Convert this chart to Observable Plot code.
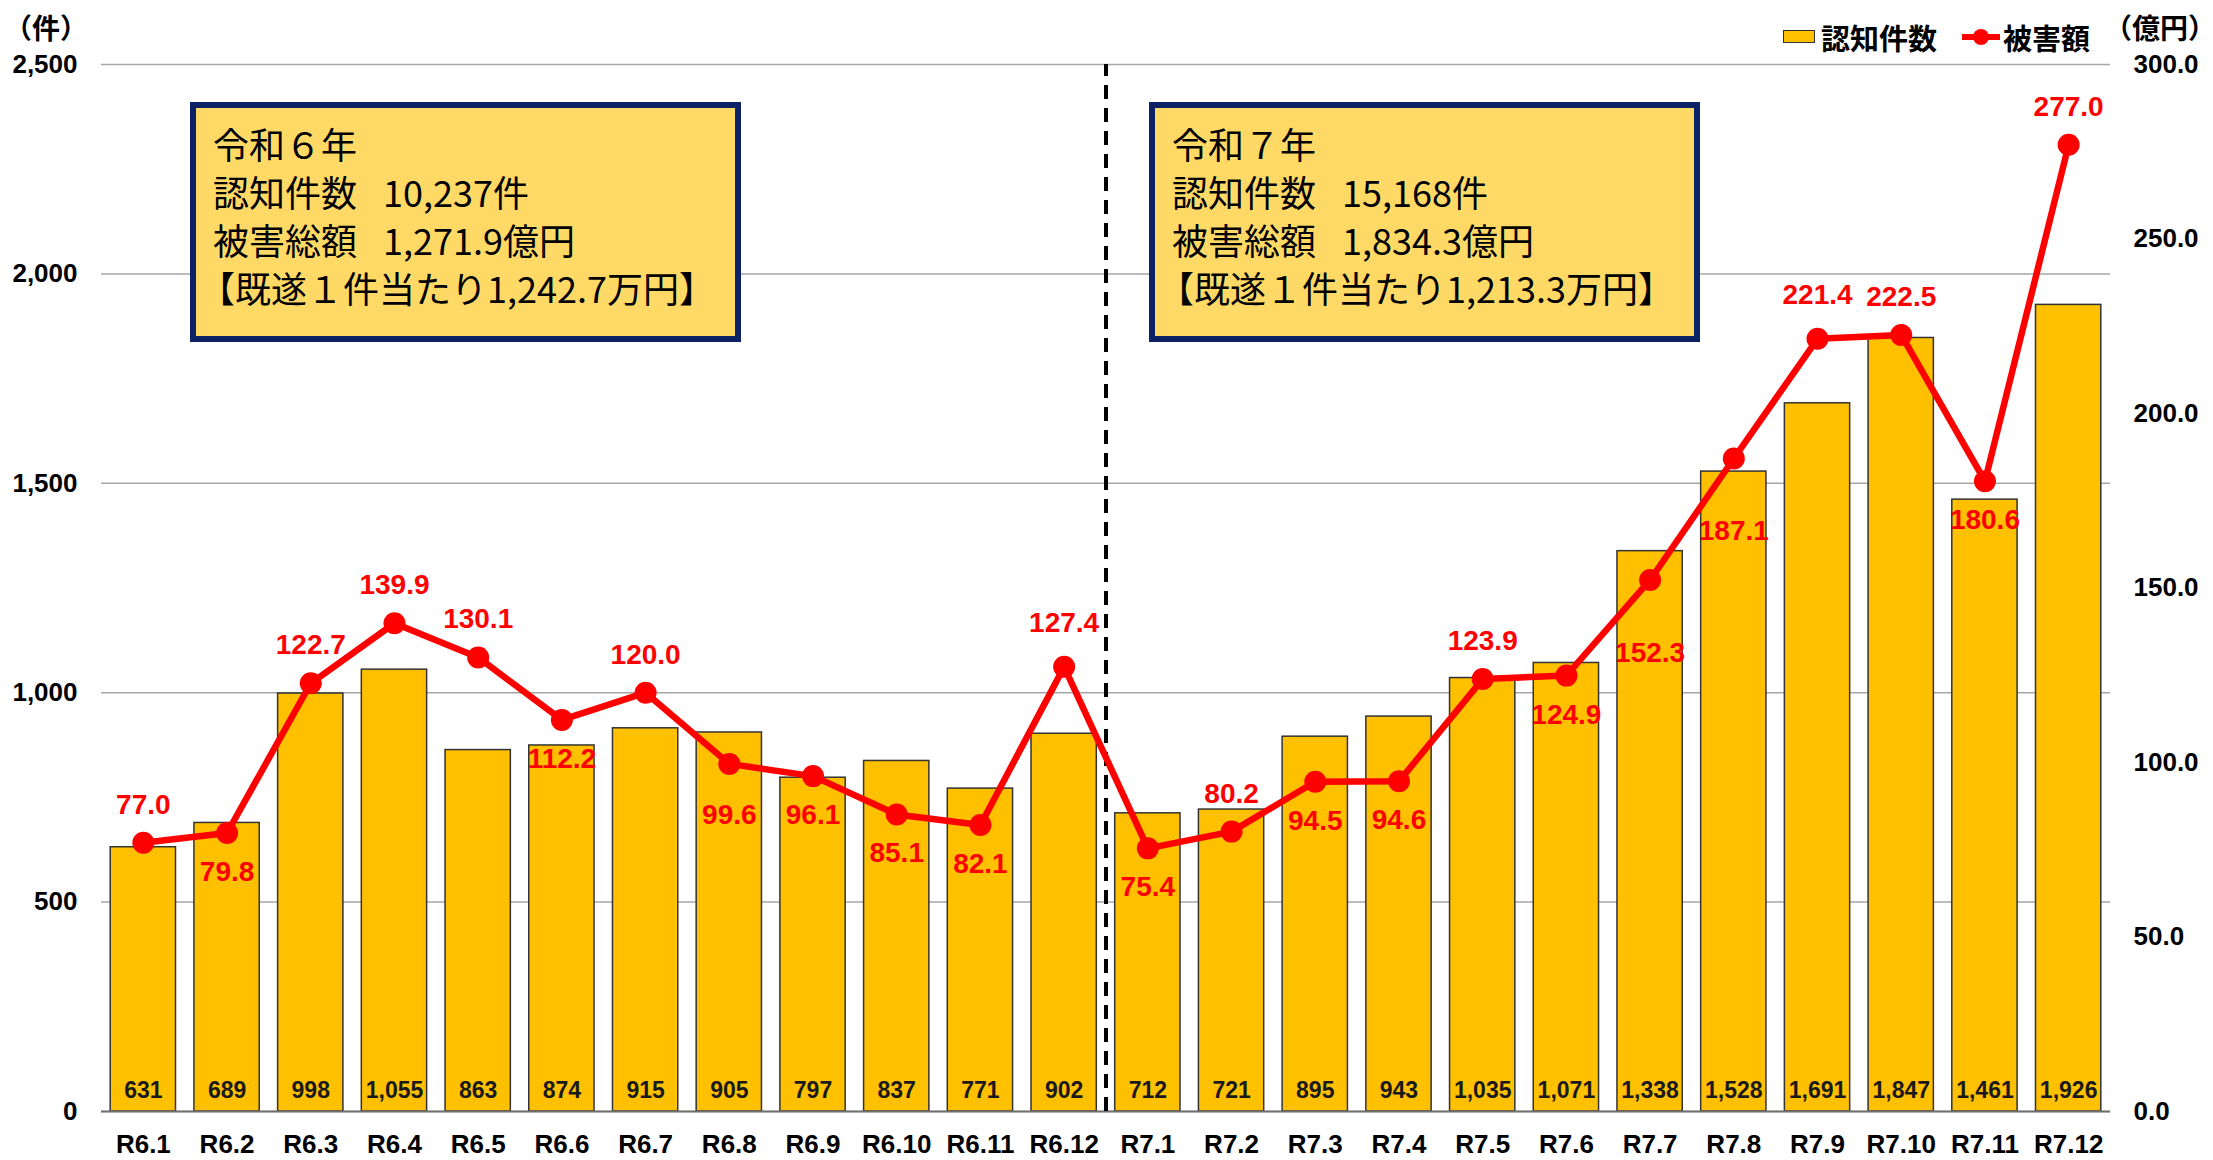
<!DOCTYPE html>
<html>
<head>
<meta charset="utf-8">
<script src="https://cdn.jsdelivr.net/npm/d3@7"></script>
<script src="https://cdn.jsdelivr.net/npm/@observablehq/plot@0.6"></script>
<style>
html, body { margin: 0; padding: 0; background: #fff; overflow: hidden; }
#wrap { position: relative; width: 2213px; height: 1160px; font-family: "Noto Sans CJK JP", "Noto Sans", sans-serif; color: #000; }
#chart { position: absolute; left: 0; top: 0; max-width: none !important; }
.box { position: absolute; top: 102px; width: 551px; height: 240px; box-sizing: border-box;
       border: 6px solid #0b2264; background: #FFD966; padding: 11px 0 0 17px;
       font-size: 36px; line-height: 48px; white-space: pre; }
.box .l4 { margin-left: -14px; }
.unit { position: absolute; top: 9px; font-size: 28px; font-weight: bold; line-height: 36px; }
.leg { position: absolute; font-size: 29px; font-weight: bold; line-height: 36px; top: 19px; }
</style>
</head>
<body>
<div id="wrap"></div>
<script>
// ---- data ----
const months = ["R6.1","R6.2","R6.3","R6.4","R6.5","R6.6","R6.7","R6.8","R6.9","R6.10","R6.11","R6.12",
                "R7.1","R7.2","R7.3","R7.4","R7.5","R7.6","R7.7","R7.8","R7.9","R7.10","R7.11","R7.12"];
const counts = [631, 689, 998, 1055, 863, 874, 915, 905, 797, 837, 771, 902,
                712, 721, 895, 943, 1035, 1071, 1338, 1528, 1691, 1847, 1461, 1926];
const amounts = [77.0, 79.8, 122.7, 139.9, 130.1, 112.2, 120.0, 99.6, 96.1, 85.1, 82.1, 127.4,
                 75.4, 80.2, 94.5, 94.6, 123.9, 124.9, 152.3, 187.1, 221.4, 222.5, 180.6, 277.0];
const leftTicks = [0, 500, 1000, 1500, 2000, 2500];
const rightTicks = [0, 50, 100, 150, 200, 250, 300];
const seriesNames = ["認知件数", "被害額"];
const leftUnit = "（件）";
const rightUnit = "（億円）";
const summaryR6 = ["令和６年", "認知件数\u2002 10,237件", "被害総額\u2002 1,271.9億円", "【既遂１件当たり1,242.7万円】"];
const summaryR7 = ["令和７年", "認知件数\u2002 15,168件", "被害総額\u2002 1,834.3億円", "【既遂１件当たり1,213.3万円】"];
// label placement for the amount labels (annotation layout)
const amountLabelPlacement = ["above","below","above","above","above","below","above","belowMid","below","below","below","aboveHigh",
                              "below","above","below","below","above","below","belowFar","belowFar","aboveHigh","above","below","above"];

// ---- layout ----
const W = 2213, H = 1160, ML = 101, MR = 103, MT = 64, MB = 49;
const PI = 0.22, PO = 0.11;
const step = (W - ML - MR) / (months.length - PI + 2 * PO);
const yMaxLeft = leftTicks[leftTicks.length - 1];
const yMaxRight = rightTicks[rightTicks.length - 1];
const K = yMaxLeft / yMaxRight;
const labelDy = { above: -38, aboveHigh: -44, below: 39, belowMid: 51, belowFar: 73 };

const data = months.map((m, i) => ({
  month: m, count: counts[i], amount: amounts[i], amountScaled: amounts[i] * K, side: amountLabelPlacement[i]
}));

const chart = Plot.plot({
  width: W, height: H,
  marginLeft: ML, marginRight: MR, marginTop: MT, marginBottom: MB,
  style: { fontFamily: "'Liberation Sans', Arial, sans-serif", background: "#fff", overflow: "visible" },
  x: { type: "band", domain: months, paddingInner: PI, paddingOuter: PO, round: false, label: null },
  y: { domain: [0, yMaxLeft], label: null },
  marks: [
    Plot.gridY(leftTicks, { stroke: "#a6a6a6", strokeOpacity: 1, strokeWidth: 1.5 }),
    Plot.barY(data, { x: "month", y: "count", fill: "#FFC000", stroke: "#333", strokeWidth: 1.5 }),
    Plot.ruleY([0], { stroke: "#707070", strokeWidth: 2 }),
    Plot.ruleX([months[12]], { dx: -step / 2, y1: 0, y2: yMaxLeft, stroke: "#000", strokeWidth: 4, strokeDasharray: "14,9" }),
    Plot.text(data, { x: "month", y: 0, text: d => d3.format(",")(d.count), dy: -21, fontSize: 23, fontWeight: "bold", fill: "#1a1a1a" }),
    Plot.line(data, { x: "month", y: "amountScaled", stroke: "#FF0000", strokeWidth: 6.5 }),
    Plot.dot(data, { x: "month", y: "amountScaled", r: 11, fill: "#FF0000", stroke: null }),
    ...Object.entries(labelDy).map(([side, dy]) =>
      Plot.text(data.filter(d => d.side === side), {
        x: "month", y: "amountScaled", text: d => d.amount.toFixed(1), dy,
        fontSize: 28, fontWeight: "bold", fill: "#FF0000"
      })),
    Plot.axisX({ tickSize: 0, tickPadding: 23, fontSize: 26, fontWeight: "bold", label: null }),
    Plot.axisY({ anchor: "left", ticks: leftTicks, tickFormat: d3.format(","), tickSize: 0, tickPadding: 24, fontSize: 26, fontWeight: "bold", label: null }),
    Plot.axisY({ anchor: "right", ticks: rightTicks.map(v => v * K), tickFormat: d => (d / K).toFixed(1), tickSize: 0, tickPadding: 23, fontSize: 26, fontWeight: "bold", label: null })
  ]
});
chart.id = "chart";
const wrap = document.getElementById("wrap");
wrap.appendChild(chart);

// ---- annotations (HTML overlays) ----
function addDiv(cls, style, text) {
  const d = document.createElement("div");
  if (cls) d.className = cls;
  Object.assign(d.style, style);
  if (text != null) d.textContent = text;
  wrap.appendChild(d);
  return d;
}
function addBox(left, lines) {
  const b = addDiv("box", { left: left + "px" });
  lines.forEach((t, i) => {
    const l = document.createElement("div");
    l.textContent = t;
    if (i === lines.length - 1) l.className = "l4";
    b.appendChild(l);
  });
}
addBox(190, summaryR6);
addBox(1149, summaryR7);
addDiv("unit", { left: "4px" }, leftUnit);
addDiv("unit", { left: "2104px" }, rightUnit);
// legend
addDiv(null, { position: "absolute", left: "1783px", top: "30px", width: "32px", height: "13px", boxSizing: "border-box", background: "#FFC000", border: "1.5px solid #333" });
addDiv("leg", { left: "1821px" }, seriesNames[0]);
addDiv(null, { position: "absolute", left: "1962px", top: "34px", width: "38px", height: "6px", background: "#FF0000" });
addDiv(null, { position: "absolute", left: "1973px", top: "29px", width: "16px", height: "16px", borderRadius: "50%", background: "#FF0000" });
addDiv("leg", { left: "2003px" }, seriesNames[1]);
</script>
</body>
</html>
